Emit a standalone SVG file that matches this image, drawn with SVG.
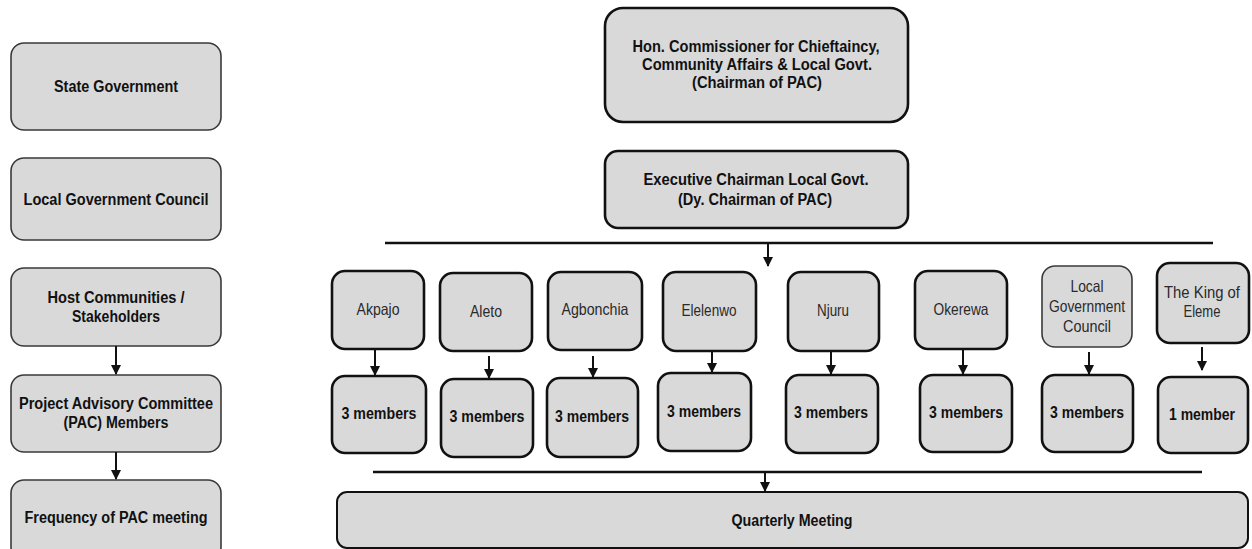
<svg xmlns="http://www.w3.org/2000/svg" width="1252" height="549" viewBox="0 0 1252 549">
<style>
.lb{fill:#d9d9d9;stroke:#3a3a3a;stroke-width:1.6}
.nb{fill:#d9d9d9;stroke:#111;stroke-width:2.6}
.qb{fill:#d9d9d9;stroke:#111;stroke-width:2}
.tb{font-family:"Liberation Sans",Arial,sans-serif;font-weight:bold;font-size:16px;fill:#111;text-anchor:middle}
.tr{font-family:"Liberation Sans",Arial,sans-serif;font-size:16.5px;fill:#2a2a2a;text-anchor:middle}
.ln{stroke:#111;stroke-width:2.4;fill:none}
.ar{stroke:#111;stroke-width:2;fill:none}
</style>
<defs>
<marker id="ah" markerWidth="10" markerHeight="10" refX="9" refY="5" orient="auto" markerUnits="userSpaceOnUse">
<path d="M0,0 L10,5 L0,10 Z" fill="#111"/>
</marker>
</defs>

<g id="state-government"><rect class="lb" x="11" y="43" width="210" height="87" rx="13"/><text class="tb" x="116" y="92" textLength="124" lengthAdjust="spacingAndGlyphs">State Government</text></g>
<g id="local-government-council-left"><rect class="lb" x="11" y="158" width="210" height="82" rx="13"/><text class="tb" x="116" y="205" textLength="185" lengthAdjust="spacingAndGlyphs">Local Government Council</text></g>
<g id="host-communities"><rect class="lb" x="11" y="268" width="210" height="78" rx="13"/><text class="tb" x="116" y="303" textLength="137" lengthAdjust="spacingAndGlyphs">Host Communities /</text><text class="tb" x="116" y="322" textLength="88" lengthAdjust="spacingAndGlyphs">Stakeholders</text></g>
<g id="pac-members"><rect class="lb" x="11" y="375" width="210" height="77" rx="13"/><text class="tb" x="116" y="409" textLength="194" lengthAdjust="spacingAndGlyphs">Project Advisory Committee</text><text class="tb" x="116" y="428" textLength="105" lengthAdjust="spacingAndGlyphs">(PAC) Members</text></g>
<g id="frequency"><rect class="lb" x="11" y="480" width="210" height="80" rx="13"/><text class="tb" x="116" y="523" textLength="183" lengthAdjust="spacingAndGlyphs">Frequency of PAC meeting</text></g>

<g id="commissioner"><rect class="nb" x="605" y="8" width="303" height="114" rx="18"/><text class="tb" x="756" y="52" textLength="247" lengthAdjust="spacingAndGlyphs">Hon. Commissioner for Chieftaincy,</text><text class="tb" x="757" y="70" textLength="230" lengthAdjust="spacingAndGlyphs">Community Affairs &amp; Local Govt.</text><text class="tb" x="757" y="88" textLength="130" lengthAdjust="spacingAndGlyphs">(Chairman of PAC)</text></g>
<g id="executive-chairman"><rect class="nb" x="605" y="151" width="303" height="77" rx="13"/><text class="tb" x="756" y="185" textLength="225" lengthAdjust="spacingAndGlyphs">Executive Chairman Local Govt.</text><text class="tb" x="755" y="205" textLength="154" lengthAdjust="spacingAndGlyphs">(Dy. Chairman of PAC)</text></g>

<g id="akpajo"><rect class="nb" x="332" y="271" width="92" height="78" rx="13"/><text class="tr" x="378" y="315" textLength="43" lengthAdjust="spacingAndGlyphs">Akpajo</text></g>
<g id="aleto"><rect class="nb" x="440" y="273" width="92" height="78" rx="13"/><text class="tr" x="486" y="317" textLength="32" lengthAdjust="spacingAndGlyphs">Aleto</text></g>
<g id="agbonchia"><rect class="nb" x="548" y="272" width="94" height="78" rx="13"/><text class="tr" x="595" y="315" textLength="67" lengthAdjust="spacingAndGlyphs">Agbonchia</text></g>
<g id="elelenwo"><rect class="nb" x="663" y="272" width="93" height="79" rx="13"/><text class="tr" x="709" y="316" textLength="55" lengthAdjust="spacingAndGlyphs">Elelenwo</text></g>
<g id="njuru"><rect class="nb" x="788" y="272" width="91" height="79" rx="13"/><text class="tr" x="833" y="316" textLength="32" lengthAdjust="spacingAndGlyphs">Njuru</text></g>
<g id="okerewa"><rect class="nb" x="915" y="271" width="92" height="78" rx="13"/><text class="tr" x="961" y="315" textLength="55" lengthAdjust="spacingAndGlyphs">Okerewa</text></g>
<g id="local-government-council"><rect class="lb" x="1042" y="266" width="90" height="81" rx="13"/><text class="tr" x="1087" y="292" textLength="33" lengthAdjust="spacingAndGlyphs">Local</text><text class="tr" x="1087" y="312" textLength="76" lengthAdjust="spacingAndGlyphs">Government</text><text class="tr" x="1087" y="332" textLength="48" lengthAdjust="spacingAndGlyphs">Council</text></g>
<g id="king-of-eleme"><rect class="nb" x="1157" y="263" width="92" height="80" rx="13"/><text class="tr" x="1202" y="298" textLength="76" lengthAdjust="spacingAndGlyphs">The King of</text><text class="tr" x="1202" y="317" textLength="37" lengthAdjust="spacingAndGlyphs">Eleme</text></g>

<g id="akpajo-members"><rect class="nb" x="332" y="376" width="94" height="77" rx="13"/><text class="tb" x="379" y="419" textLength="75" lengthAdjust="spacingAndGlyphs">3 members</text></g>
<g id="aleto-members"><rect class="nb" x="441" y="379" width="92" height="78" rx="13"/><text class="tb" x="487" y="422" textLength="75" lengthAdjust="spacingAndGlyphs">3 members</text></g>
<g id="agbonchia-members"><rect class="nb" x="547" y="378" width="91" height="79" rx="13"/><text class="tb" x="592" y="422" textLength="74" lengthAdjust="spacingAndGlyphs">3 members</text></g>
<g id="elelenwo-members"><rect class="nb" x="658" y="373" width="93" height="78" rx="13"/><text class="tb" x="704" y="417" textLength="74" lengthAdjust="spacingAndGlyphs">3 members</text></g>
<g id="njuru-members"><rect class="nb" x="786" y="375" width="92" height="78" rx="13"/><text class="tb" x="831" y="418" textLength="74" lengthAdjust="spacingAndGlyphs">3 members</text></g>
<g id="okerewa-members"><rect class="nb" x="920" y="375" width="92" height="77" rx="13"/><text class="tb" x="966" y="418" textLength="74" lengthAdjust="spacingAndGlyphs">3 members</text></g>
<g id="lgc-members"><rect class="nb" x="1042" y="375" width="91" height="77" rx="13"/><text class="tb" x="1087" y="418" textLength="74" lengthAdjust="spacingAndGlyphs">3 members</text></g>
<g id="king-members"><rect class="nb" x="1158" y="377" width="90" height="76" rx="13"/><text class="tb" x="1202" y="420" textLength="66" lengthAdjust="spacingAndGlyphs">1 member</text></g>

<g id="quarterly-meeting"><rect class="qb" x="337" y="492" width="911" height="56" rx="10"/><text class="tb" x="792" y="526" textLength="121" lengthAdjust="spacingAndGlyphs">Quarterly Meeting</text></g>

<g id="connectors">
<line class="ar" x1="116" y1="346" x2="116" y2="374" marker-end="url(#ah)"/>
<line class="ar" x1="116" y1="452" x2="116" y2="479" marker-end="url(#ah)"/>
<line class="ln" x1="385" y1="243" x2="1213" y2="243"/>
<line class="ar" x1="768" y1="243" x2="768" y2="266" marker-end="url(#ah)"/>
<line class="ar" x1="375" y1="349" x2="375" y2="375" marker-end="url(#ah)"/>
<line class="ar" x1="489" y1="356" x2="489" y2="378" marker-end="url(#ah)"/>
<line class="ar" x1="593" y1="356" x2="593" y2="377" marker-end="url(#ah)"/>
<line class="ar" x1="712" y1="351" x2="712" y2="372" marker-end="url(#ah)"/>
<line class="ar" x1="831" y1="351" x2="831" y2="374" marker-end="url(#ah)"/>
<line class="ar" x1="963" y1="349" x2="963" y2="374" marker-end="url(#ah)"/>
<line class="ar" x1="1089" y1="352" x2="1089" y2="374" marker-end="url(#ah)"/>
<line class="ar" x1="1202" y1="347" x2="1202" y2="370" marker-end="url(#ah)"/>
<line class="ln" x1="373" y1="472" x2="1202" y2="472"/>
<line class="ar" x1="765" y1="472" x2="765" y2="491" marker-end="url(#ah)"/>
</g>
</svg>
